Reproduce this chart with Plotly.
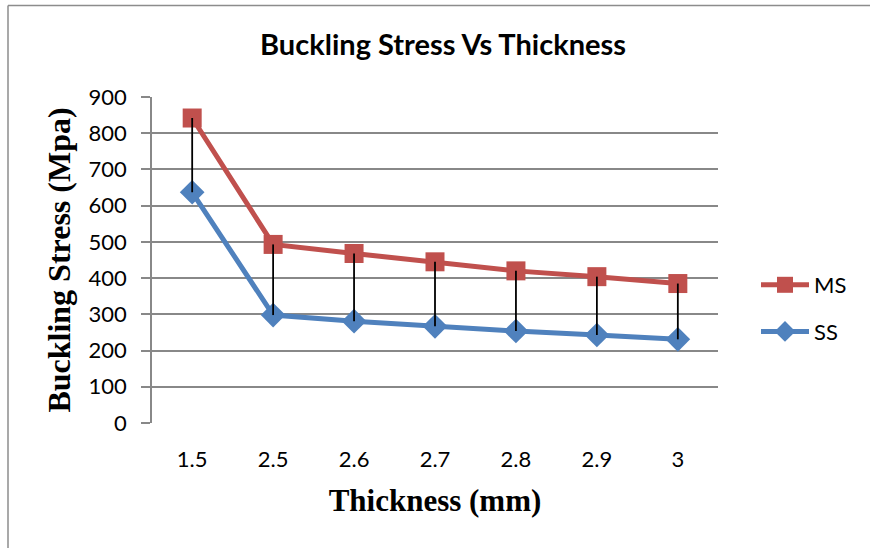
import plotly.graph_objects as go

thickness = ["1.5", "2.5", "2.6", "2.7", "2.8", "2.9", "3"]
ms_stress = [842, 493, 468, 445, 420, 404, 385]
ss_stress = [637, 298, 281, 267, 254, 243, 231]

W, H = 870, 548
L, R, T, B = 152, 152, 97, 125
PW, PH = W - L - R, H - T - B

def px(x):
    return (x - L) / PW

def py(y):
    return (H - B - y) / PH

RED = "#C0504D"
BLUE = "#4F81BD"
GRID = "#888888"

fig = go.Figure()

fig.add_trace(go.Scatter(
    x=thickness, y=ms_stress, name="MS", mode="lines+markers",
    line=dict(color=RED, width=5),
    marker=dict(symbol="square", size=19, color=RED),
    legendgroup="ms",
))
fig.add_trace(go.Scatter(
    x=thickness, y=ss_stress, name="SS", mode="lines+markers",
    line=dict(color=BLUE, width=5),
    marker=dict(symbol="diamond", size=19, color=BLUE),
    legendgroup="ss",
))

# drop lines from MS to SS
dx, dy = [], []
for c, a, b in zip(thickness, ms_stress, ss_stress):
    dx += [c, c, None]
    dy += [a, b, None]
fig.add_trace(go.Scatter(
    x=dx, y=dy, mode="lines", line=dict(color="black", width=1.8),
    showlegend=False, hoverinfo="skip",
))

tick_font = dict(family="Lato, Open Sans, sans-serif", size=22, color="black")

fig.update_layout(
    width=W, height=H,
    margin=dict(l=L, r=R, t=T, b=B),
    paper_bgcolor="white", plot_bgcolor="white",
    title=dict(
        text="<b>Buckling Stress Vs Thickness</b>",
        font=dict(family="Lato, Open Sans, sans-serif", size=29, color="black"),
        x=443 / W, xref="container", xanchor="center",
        y=1 - 45 / H, yref="container", yanchor="middle",
    ),
    xaxis=dict(
        type="category", showgrid=False, showline=False, zeroline=False,
        ticks="", tickfont=tick_font, ticklabelstandoff=21,
        title=dict(
            text="<b>Thickness (mm)</b>",
            font=dict(family="Liberation Serif, Times New Roman, serif", size=31, color="black"),
            standoff=18,
        ),
    ),
    yaxis=dict(
        range=[0, 900], dtick=100, showgrid=True, gridcolor=GRID, gridwidth=1.5,
        showline=True, linecolor=GRID, linewidth=1.5,
        ticks="outside", ticklen=9, tickcolor=GRID, tickwidth=1.5,
        zeroline=False, tickfont=tick_font, ticklabelstandoff=10,
        title=dict(
            text="<b>Buckling Stress (Mpa)</b>",
            font=dict(family="Liberation Serif, Times New Roman, serif", size=32, color="black"),
            standoff=8,
        ),
    ),
    legend=dict(
        x=px(756), xanchor="left", y=py(264), yanchor="top",
        font=dict(family="Lato, Open Sans, sans-serif", size=22, color="black"),
        bgcolor="rgba(0,0,0,0)", traceorder="grouped", tracegroupgap=15,
        itemwidth=48,
    ),
    showlegend=True,
    shapes=[
        dict(type="line", xref="paper", yref="paper", x0=px(8), x1=px(8), y0=py(5.5), y1=py(H),
             line=dict(color="#8c8c8c", width=1.5)),
        dict(type="line", xref="paper", yref="paper", x0=px(8), x1=px(W), y0=py(5.5), y1=py(5.5),
             line=dict(color="#8c8c8c", width=1.5)),
    ],
)

fig.write_html("out.html", config={"displayModeBar": False},
               post_script="document.body.style.margin='0';")
